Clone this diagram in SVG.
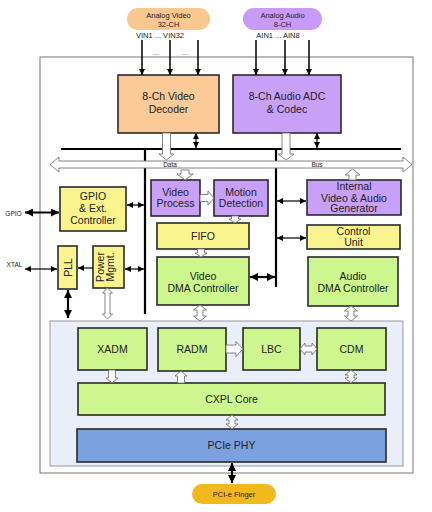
<svg xmlns="http://www.w3.org/2000/svg" width="432" height="512" viewBox="0 0 432 512">
<style>
text{font-family:"Liberation Sans",Arial,sans-serif;fill:#222;text-anchor:middle}
.b{font-size:10.5px}
.s{font-size:7.5px}
.t{font-size:6.5px}
.box{stroke:#2a2a2a;stroke-width:1.6}
.pe{fill:#fbca96}.pu{fill:#c8a0f7}.ye{fill:#f9f48e}.gr{fill:#cdf68e}.bl{fill:#7ba2de}
.ln{stroke:#000;fill:none}
.ho{fill:#fff;stroke:#777;stroke-width:0.9}
</style>
<defs>
<marker id="a" viewBox="0 0 10 10" refX="10" refY="5" markerWidth="6" markerHeight="6" markerUnits="userSpaceOnUse" orient="auto-start-reverse"><path d="M0,0L10,5L0,10z" fill="#000"/></marker>
<marker id="A" viewBox="0 0 10 10" refX="10" refY="5" markerWidth="8" markerHeight="8" markerUnits="userSpaceOnUse" orient="auto-start-reverse"><path d="M0,0L10,5L0,10z" fill="#000"/></marker>
</defs>

<rect id="chip" x="40" y="57" width="373" height="416" fill="#fff" stroke="#777" stroke-width="1"/>
<rect id="pcie-core" x="50" y="321" width="353" height="145" fill="#e9eef8" stroke="#999" stroke-width="1"/>

<g id="analog-video">
<rect x="127" y="8" width="83" height="22" rx="11" fill="#f9c890"/>
<text class="s" x="168.5" y="18">Analog Video</text>
<text class="s" x="168.5" y="26.5">32-CH</text>
<text class="s" x="160" y="38">VIN1 ... VIN32</text>
</g>
<g id="analog-audio">
<rect x="243" y="8" width="79" height="22" rx="11" fill="#c89bf8"/>
<text class="s" x="282.5" y="18">Analog Audio</text>
<text class="s" x="282.5" y="26.5">8-CH</text>
<text class="s" x="278" y="38">AIN1 ... AIN8</text>
</g>

<g id="video-decoder">
<rect class="box pe" x="118" y="75" width="101" height="58"/>
<text class="b" x="168.5" y="100">8-Ch Video</text>
<text class="b" x="168.5" y="113">Decoder</text>
</g>
<g id="audio-adc">
<rect class="box pu" x="233" y="75" width="108" height="58"/>
<text class="b" x="287" y="100">8-Ch Audio ADC</text>
<text class="b" x="287" y="113">&amp; Codec</text>
</g>

<g id="video-process">
<rect class="box pu" x="151" y="180" width="49" height="36"/>
<text class="b" x="175.5" y="196">Video</text>
<text class="b" x="175.5" y="207">Process</text>
</g>
<g id="motion-detection">
<rect class="box pu" x="214" y="180" width="54" height="36"/>
<text class="b" x="241" y="196">Motion</text>
<text class="b" x="241" y="207">Detection</text>
</g>
<g id="fifo">
<rect class="box ye" x="157" y="223" width="92" height="26"/>
<text class="b" x="203" y="239.5">FIFO</text>
</g>
<g id="video-dma">
<rect class="box gr" x="157" y="257" width="92" height="48"/>
<text class="b" x="203" y="280">Video</text>
<text class="b" x="203" y="291.5">DMA Controller</text>
</g>
<g id="generator">
<rect class="box pu" x="307" y="180" width="94" height="35"/>
<text class="b" x="354" y="190">Internal</text>
<text class="b" x="354" y="201.5">Video &amp; Audio</text>
<text class="b" x="354" y="212">Generator</text>
</g>
<g id="control-unit">
<rect class="box ye" x="307" y="225" width="93" height="24"/>
<text class="b" x="353.5" y="235">Control</text>
<text class="b" x="353.5" y="246">Unit</text>
</g>
<g id="audio-dma">
<rect class="box gr" x="308" y="257" width="90" height="49"/>
<text class="b" x="353" y="280">Audio</text>
<text class="b" x="353" y="291.5">DMA Controller</text>
</g>
<g id="gpio">
<rect class="box ye" x="60" y="187" width="66" height="44"/>
<text class="b" x="93" y="200">GPIO</text>
<text class="b" x="93" y="212">&amp; Ext.</text>
<text class="b" x="93" y="223.5">Controller</text>
</g>
<g id="pll">
<rect class="box ye" x="58" y="246" width="19" height="43"/>
<text class="b" transform="translate(71.5,267.5) rotate(-90)" x="0" y="0">PLL</text>
</g>
<g id="power">
<rect class="box ye" x="93" y="246" width="31" height="42"/>
<g transform="translate(105,267) rotate(-90)">
<text class="b" x="0" y="-1">Power</text>
<text class="b" x="0" y="9">Mgmt.</text>
</g>
</g>

<g id="xadm"><rect class="box gr" x="78" y="328" width="69" height="42"/><text class="b" x="112.5" y="352.5">XADM</text></g>
<g id="radm"><rect class="box gr" x="158" y="328" width="68" height="43"/><text class="b" x="192" y="353">RADM</text></g>
<g id="lbc"><rect class="box gr" x="243" y="328" width="57" height="42"/><text class="b" x="271.5" y="352.5">LBC</text></g>
<g id="cdm"><rect class="box gr" x="317" y="328" width="69" height="42"/><text class="b" x="351.5" y="352.5">CDM</text></g>
<g id="cxpl"><rect class="box gr" x="78" y="383" width="307" height="32"/><text class="b" x="231.5" y="403">CXPL Core</text></g>
<g id="phy"><rect class="box bl" x="77" y="429" width="309" height="33"/><text class="b" x="231.5" y="449">PCIe PHY</text></g>
<g id="pcie-finger">
<rect x="192" y="484" width="84" height="20" rx="10" fill="#f2b81e"/>
<text class="s" x="234" y="496.5">PCI-e Finger</text>
</g>

<g id="connectors">
<g class="ln" stroke-width="1.5" marker-end="url(#a)">
<line x1="142" y1="40" x2="142" y2="75"/>
<line x1="170" y1="40" x2="170" y2="75"/>
<line x1="198" y1="40" x2="198" y2="75"/>
<line x1="256" y1="40" x2="256" y2="75"/>
<line x1="285" y1="40" x2="285" y2="75"/>
<line x1="309" y1="40" x2="309" y2="75"/>
</g>
<line class="ln" x1="61" y1="149" x2="401" y2="149" stroke-width="2.2"/>
<line class="ln" x1="145" y1="149" x2="145" y2="314" stroke-width="2.2"/>
<line class="ln" x1="276" y1="149" x2="276" y2="287" stroke-width="2.2"/>
<g class="ln" stroke-width="1.2" marker-start="url(#a)" marker-end="url(#a)">
<line x1="196" y1="133" x2="196" y2="148"/>
<line x1="317" y1="133" x2="317" y2="148"/>
<line x1="127" y1="205" x2="144" y2="205"/>
<line x1="125" y1="269" x2="144" y2="269"/>
<line x1="277" y1="201" x2="306" y2="201"/>
<line x1="277" y1="238" x2="306" y2="238"/>
<line x1="25" y1="269" x2="57" y2="269"/>
</g>
<line class="ln" x1="93" y1="268" x2="78" y2="268" stroke-width="1.2" marker-end="url(#a)"/>
<g class="ln" stroke-width="2.2" marker-start="url(#A)" marker-end="url(#A)">
<line x1="25" y1="212.5" x2="59" y2="212.5"/>
<line x1="250" y1="277" x2="275" y2="277"/>
<line x1="68" y1="290" x2="68" y2="318"/>
<line x1="232" y1="463" x2="232" y2="483"/>
</g>
<polygon class="ho" points="50,164.5 59,157 59,161 403,161 403,157 412,164.5 403,172 403,168 59,168 59,172"/>
<polygon class="ho" points="162.5,133 170.5,133 170.5,154 174,154 166.5,160 159,154 162.5,154"/>
<polygon class="ho" points="282,133 290,133 290,154 294,154 286,160 278,154 282,154"/>
<polygon class="ho" points="181,170 189,170 189,174 193,174 185,180 177,174 181,174"/>
<polygon class="ho" points="349,180 356,180 356,175 360,175 352.5,169 345,175 349,175"/>
<polygon class="ho" points="200,194.5 208,194.5 208,191 214,198 208,205 208,201.5 200,201.5"/>
<polygon class="ho" points="231.5,216 238.5,216 238.5,219 241,219 235,223 229,219 231.5,219"/>
<polygon class="ho" points="197.5,249 204.5,249 204.5,253 207,253 201,257 195,253 197.5,253"/>
<polygon class="ho" points="107.5,288 112.5,293 110,293 110,314 112.5,314 107.5,319 102.5,314 105,314 105,293 102.5,293"/>
<polygon class="ho" points="200,305 206.5,310 203,310 203,316 206.5,316 200,321 193.5,316 197,316 197,310 193.5,310"/>
<polygon class="ho" points="351,306 357.5,311 354,311 354,316 357.5,316 351,321 344.5,316 348,316 348,311 344.5,311"/>
<polygon class="ho" points="226,345 236,345 236,341.5 243,349 236,356.5 236,353 226,353"/>
<polygon class="ho" points="300,349 305,343 305,346 312,346 312,343 317,349 312,355 312,352 305,352 305,355"/>
<polygon class="ho" points="108.5,370 115.5,370 115.5,378 118,378 112,383 106,378 108.5,378"/>
<polygon class="ho" points="177.5,383 184.5,383 184.5,376 187,376 181,371 175,376 177.5,376"/>
<polygon class="ho" points="351,370 357,375 354,375 354,378 357,378 351,383 345,378 348,378 348,375 345,375"/>
<polygon class="ho" points="232,415 238,420 235,420 235,424 238,424 232,429 226,424 229,424 229,420 226,420"/>
</g>

<g id="labels">
<text class="t" x="13.5" y="215.5">GPIO</text>
<text class="t" x="14.5" y="266.5">XTAL</text>
<text class="t" x="170" y="167">Data</text>
<text class="t" x="317" y="167">Bus</text>
<text x="156" y="55" style="font-size:8px;fill:#555">...</text>
<text x="185" y="55" style="font-size:8px;fill:#555">...</text>
</g>
</svg>
